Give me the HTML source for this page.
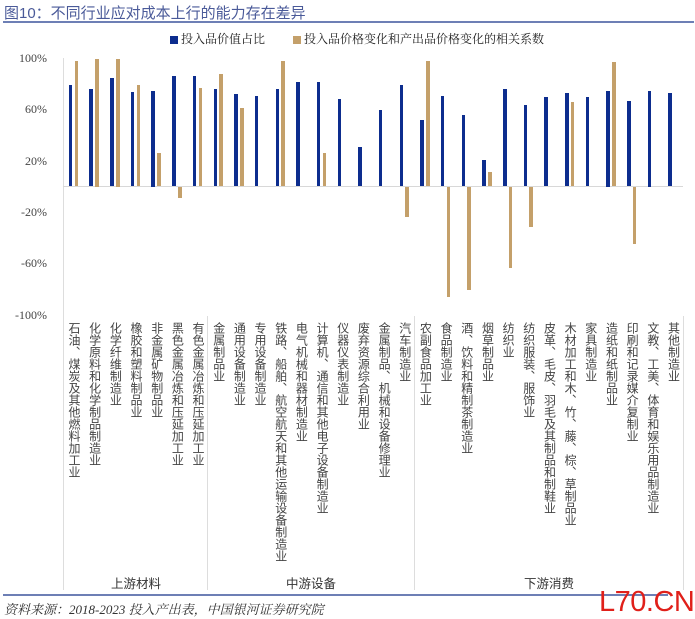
<!DOCTYPE html>
<html><head><meta charset="utf-8">
<style>
*{margin:0;padding:0;box-sizing:border-box}
body{width:695px;height:619px;background:#fff;position:relative;overflow:hidden;font-family:"Liberation Serif","Noto Serif CJK SC",serif;color:#333}
.abs{position:absolute}
#title{left:4px;top:2px;font-size:15px;color:#4a5a99;font-family:"Liberation Sans","Noto Sans CJK SC",sans-serif}
#tline{left:3px;top:21px;width:691px;height:2px;background:#6d7fb5}
#legend{top:30px;left:170px;font-size:12px;color:#222;white-space:nowrap}
#legend span.sw{display:inline-block;width:8px;height:8px;vertical-align:middle;margin-right:3px}
.yl{right:648px;font-size:12px;color:#444;text-align:right}
#plot{left:63px;top:0;width:620px;height:600px;display:flex}
.c{flex:1;position:relative}
.b,.t{position:absolute;width:3.6px}
.b{left:5.8px;background:#0d2d8e;top:calc(186.5px - var(--v)*1.28px);height:calc(var(--v)*1.28px)}
.t{left:11.6px;background:#c4a06a;top:calc(186.5px - var(--v)*1.28px);height:calc(var(--v)*1.28px)}
.t.n{top:186.5px}
.lb{position:absolute;top:322px;left:4px;writing-mode:vertical-rl;font-size:12px;line-height:14px;color:#444;white-space:nowrap;font-family:"Liberation Sans","Noto Sans CJK SC",sans-serif}
.vl{width:1px;background:#ddd}
.g{top:573px;font-size:12.5px;color:#333;font-family:"Liberation Sans","Noto Sans CJK SC",sans-serif}
</style></head><body>
<div id="title" class="abs">图10：不同行业应对成本上行的能力存在差异</div>
<div id="tline" class="abs"></div>
<div id="legend" class="abs"><span class="sw" style="background:#0d2d8e"></span>投入品价值占比<span style="display:inline-block;width:28px"></span><span class="sw" style="background:#c4a06a"></span>投入品价格变化和产出品价格变化的相关系数</div>
<div class="abs yl" style="top:51px">100%</div>
<div class="abs yl" style="top:102px">60%</div>
<div class="abs yl" style="top:154px">20%</div>
<div class="abs yl" style="top:205px">-20%</div>
<div class="abs yl" style="top:256px">-60%</div>
<div class="abs yl" style="top:308px">-100%</div>
<div class="abs vl" style="left:63px;top:58px;height:532px"></div>
<div class="abs vl" style="left:207px;top:316px;height:274px"></div>
<div class="abs vl" style="left:414px;top:316px;height:274px"></div>
<div class="abs vl" style="left:683px;top:316px;height:274px"></div>
<div class="abs" style="left:63px;top:186px;width:620px;height:1px;background:#d8d8d8"></div>
<div id="plot" class="abs">
<div class="c"><div class="b" style="--v:79"></div><div class="t" style="--v:98"></div><div class="lb">石油、煤炭及其他燃料加工业</div></div>
<div class="c"><div class="b" style="--v:76"></div><div class="t" style="--v:100"></div><div class="lb">化学原料和化学制品制造业</div></div>
<div class="c"><div class="b" style="--v:85"></div><div class="t" style="--v:100"></div><div class="lb">化学纤维制造业</div></div>
<div class="c"><div class="b" style="--v:74"></div><div class="t" style="--v:79"></div><div class="lb">橡胶和塑料制品业</div></div>
<div class="c"><div class="b" style="--v:75"></div><div class="t" style="--v:26"></div><div class="lb">非金属矿物制品业</div></div>
<div class="c"><div class="b" style="--v:86"></div><div class="t n" style="--v:9"></div><div class="lb">黑色金属冶炼和压延加工业</div></div>
<div class="c"><div class="b" style="--v:86"></div><div class="t" style="--v:77"></div><div class="lb">有色金属冶炼和压延加工业</div></div>
<div class="c"><div class="b" style="--v:76"></div><div class="t" style="--v:88"></div><div class="lb">金属制品业</div></div>
<div class="c"><div class="b" style="--v:72"></div><div class="t" style="--v:61"></div><div class="lb">通用设备制造业</div></div>
<div class="c"><div class="b" style="--v:71"></div><div class="lb">专用设备制造业</div></div>
<div class="c"><div class="b" style="--v:76"></div><div class="t" style="--v:98"></div><div class="lb">铁路、船舶、航空航天和其他运输设备制造业</div></div>
<div class="c"><div class="b" style="--v:82"></div><div class="lb">电气机械和器材制造业</div></div>
<div class="c"><div class="b" style="--v:82"></div><div class="t" style="--v:26"></div><div class="lb">计算机、通信和其他电子设备制造业</div></div>
<div class="c"><div class="b" style="--v:68"></div><div class="lb">仪器仪表制造业</div></div>
<div class="c"><div class="b" style="--v:31"></div><div class="lb">废弃资源综合利用业</div></div>
<div class="c"><div class="b" style="--v:60"></div><div class="lb">金属制品、机械和设备修理业</div></div>
<div class="c"><div class="b" style="--v:79"></div><div class="t n" style="--v:24"></div><div class="lb">汽车制造业</div></div>
<div class="c"><div class="b" style="--v:52"></div><div class="t" style="--v:98"></div><div class="lb">农副食品加工业</div></div>
<div class="c"><div class="b" style="--v:71"></div><div class="t n" style="--v:86"></div><div class="lb">食品制造业</div></div>
<div class="c"><div class="b" style="--v:56"></div><div class="t n" style="--v:81"></div><div class="lb">酒、饮料和精制茶制造业</div></div>
<div class="c"><div class="b" style="--v:21"></div><div class="t" style="--v:11"></div><div class="lb">烟草制品业</div></div>
<div class="c"><div class="b" style="--v:76"></div><div class="t n" style="--v:64"></div><div class="lb">纺织业</div></div>
<div class="c"><div class="b" style="--v:64"></div><div class="t n" style="--v:32"></div><div class="lb">纺织服装、服饰业</div></div>
<div class="c"><div class="b" style="--v:70"></div><div class="lb">皮革、毛皮、羽毛及其制品和制鞋业</div></div>
<div class="c"><div class="b" style="--v:73"></div><div class="t" style="--v:66"></div><div class="lb">木材加工和木、竹、藤、棕、草制品业</div></div>
<div class="c"><div class="b" style="--v:70"></div><div class="lb">家具制造业</div></div>
<div class="c"><div class="b" style="--v:75"></div><div class="t" style="--v:97"></div><div class="lb">造纸和纸制品业</div></div>
<div class="c"><div class="b" style="--v:67"></div><div class="t n" style="--v:45"></div><div class="lb">印刷和记录媒介复制业</div></div>
<div class="c"><div class="b" style="--v:75"></div><div class="lb">文教、工美、体育和娱乐用品制造业</div></div>
<div class="c"><div class="b" style="--v:73"></div><div class="lb">其他制造业</div></div>
</div>
<div class="abs g" style="left:111px">上游材料</div>
<div class="abs g" style="left:286px">中游设备</div>
<div class="abs g" style="left:524px">下游消费</div>
<div class="abs" style="left:3px;top:594px;width:665px;height:2px;background:#6d7fb5"></div>
<div class="abs" style="left:4px;top:599px;font-size:13px;font-style:italic;color:#333">资料来源：2018-2023 投入产出表，中国银河证券研究院</div>
<div class="abs" style="left:599px;top:586px;font-size:29px;line-height:32px;color:#e0201a;font-family:'Liberation Sans',sans-serif;letter-spacing:-0.5px">L70.CN</div>
</body></html>
